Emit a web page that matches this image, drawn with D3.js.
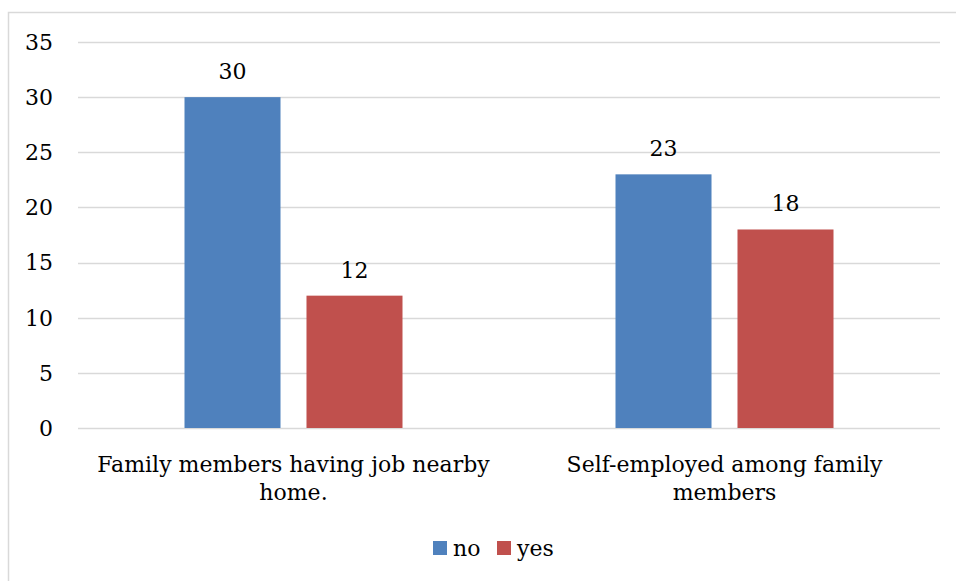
<!DOCTYPE html>
<html>
<head>
<meta charset="utf-8">
<script src="https://cdn.jsdelivr.net/npm/d3@7"></script>
<style>
  html, body { margin: 0; padding: 0; background: #fff; }
</style>
</head>
<body>
<svg id="chart" width="956" height="581" font-family="DejaVu Serif" font-size="22"></svg>
<script>
// Categories (each split onto two lines) and series values
const categories = ["Family members having job nearby home.", "Self-employed among family members"];
const categoryLines = [["Family members having job nearby", "home."], ["Self-employed among family", "members"]];
const seriesNames = ["no", "yes"];
const noValues = [30, 23];
const yesValues = [12, 18];
const yTicks = [0, 5, 10, 15, 20, 25, 30, 35];
const seriesColors = ["#4F81BD", "#C0504D"];

const seriesValues = [noValues, yesValues];

const svg = d3.select("#chart");
const plot = { left: 78, right: 940, top: 42, bottom: 428 };

// Outer frame
svg.append("rect")
  .attr("x", 8.5).attr("y", 12.5)
  .attr("width", 1000).attr("height", 1000)
  .attr("fill", "none").attr("stroke", "#d9d9d9").attr("stroke-width", 1.5);

const y = d3.scaleLinear().domain([0, 35]).range([plot.bottom, plot.top]);
const x0 = d3.scaleBand().domain(categories).range([plot.left, plot.right]).padding(0);
const x1 = d3.scaleBand().domain(seriesNames).range([0, x0.bandwidth()])
  .paddingInner(0.213).paddingOuter(0.873);

// Horizontal gridlines
svg.append("g").selectAll("line").data(yTicks).join("line")
  .attr("x1", plot.left).attr("x2", plot.right)
  .attr("y1", d => Math.round(y(d)) + 0.5).attr("y2", d => Math.round(y(d)) + 0.5)
  .attr("stroke", "#d9d9d9").attr("stroke-width", 1.3);

// Y axis labels
svg.append("g").selectAll("text").data(yTicks).join("text")
  .attr("x", 53).attr("y", d => y(d)).attr("dy", "0.36em")
  .attr("text-anchor", "end").text(d => d);

// Bars
const groups = svg.append("g").selectAll("g").data(categories).join("g")
  .attr("transform", d => `translate(${x0(d)},0)`);

groups.selectAll("rect")
  .data((d, i) => seriesNames.map((s, j) => ({ s, v: seriesValues[j][i], j })))
  .join("rect")
  .attr("x", d => x1(d.s))
  .attr("y", d => y(d.v))
  .attr("width", x1.bandwidth())
  .attr("height", d => y(0) - y(d.v))
  .attr("fill", d => seriesColors[d.j]);

// Value labels
groups.selectAll("text.val")
  .data((d, i) => seriesNames.map((s, j) => ({ s, v: seriesValues[j][i] })))
  .join("text")
  .attr("class", "val")
  .attr("x", d => x1(d.s) + x1.bandwidth() / 2)
  .attr("y", d => y(d.v) - 18)
  .attr("text-anchor", "middle")
  .text(d => d.v);

// Category labels
categories.forEach((c, i) => {
  const t = svg.append("text")
    .attr("x", x0(c) + x0.bandwidth() / 2)
    .attr("y", 472)
    .attr("text-anchor", "middle");
  categoryLines[i].forEach((line, k) => {
    t.append("tspan")
      .attr("x", x0(c) + x0.bandwidth() / 2)
      .attr("dy", k === 0 ? 0 : 28)
      .text(line);
  });
});

// Legend
const legendItems = [{ name: "no", x: 433 }, { name: "yes", x: 497 }];
const lg = svg.append("g");
legendItems.forEach((d, i) => {
  lg.append("rect").attr("x", d.x).attr("y", 541).attr("width", 14).attr("height", 14)
    .attr("fill", seriesColors[i]);
  lg.append("text").attr("x", d.x + 20).attr("y", 556).text(d.name);
});
</script>
</body>
</html>
